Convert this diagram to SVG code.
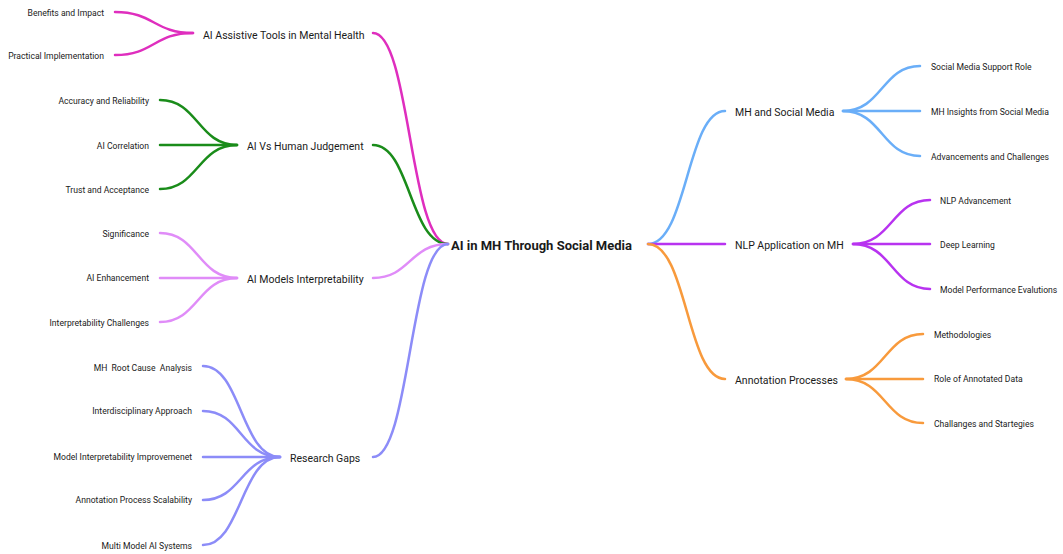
<svg xmlns="http://www.w3.org/2000/svg" width="1063" height="554" viewBox="0 0 1063 554">
<style>
text{font-family:Roboto,"Liberation Sans",sans-serif;fill:#1a1a1a;dominant-baseline:central}
.c{font-size:8.6px}
.p{font-size:10.5px}
.m{font-size:13px;font-weight:bold}
.r{text-anchor:end}
.pre{white-space:pre}
path{fill:none;stroke-width:2.5;stroke-linecap:round}
.pk{stroke:#df2ebe}.gr{stroke:#1a8c1a}.lp{stroke:#e08cf8}.bv{stroke:#8c8cf8}.lb{stroke:#6aaef8}.pu{stroke:#b833f0}.or{stroke:#f89a3c}
</style>
<rect width="1063" height="554" fill="#fff"/>
<g id="connectors">
<path class="pk" d="M373 33C410 33 410 244 448 244"/>
<path class="gr" d="M373 145C410 145 410 244 448 244"/>
<path class="lp" d="M373 278C410 278 410 244 448 244"/>
<path class="bv" d="M373 457C410 457 410 244 448 244"/>
<path class="pk" d="M193 33C154 33 154 12 115 12"/>
<path class="pk" d="M193 33C154 33 154 55 115 55"/>
<path class="gr" d="M237 145C198 145 198 100 160 100"/>
<path class="gr" d="M237 145L160 145"/>
<path class="gr" d="M237 145C198 145 198 189 160 189"/>
<path class="lp" d="M237 278C198 278 198 233 160 233"/>
<path class="lp" d="M237 278L160 278"/>
<path class="lp" d="M237 278C198 278 198 322 160 322"/>
<path class="bv" d="M280 457C241 457 241 366 203 366"/>
<path class="bv" d="M280 457C241 457 241 411 203 411"/>
<path class="bv" d="M280 457L203 457"/>
<path class="bv" d="M280 457C241 457 241 500 203 500"/>
<path class="bv" d="M280 457C241 457 241 545 203 545"/>
<path class="lb" d="M648 244C687 244 687 111 725 111"/>
<path class="pu" d="M648 244L725 244"/>
<path class="or" d="M648 244C687 244 687 379 725 379"/>
<path class="lb" d="M843 111C882 111 882 66 920 66"/>
<path class="lb" d="M843 111L920 111"/>
<path class="lb" d="M843 111C882 111 882 156 920 156"/>
<path class="pu" d="M853 244C892 244 892 200 930 200"/>
<path class="pu" d="M853 244L930 244"/>
<path class="pu" d="M853 244C892 244 892 289 930 289"/>
<path class="or" d="M846 379C885 379 885 334 923 334"/>
<path class="or" d="M846 379L923 379"/>
<path class="or" d="M846 379C885 379 885 423 923 423"/>
</g>
<g id="center"><text class="m" x="451" y="245">AI in MH Through Social Media</text></g>
<g id="n-assistive"><text class="p" x="203" y="35">AI Assistive Tools in Mental Health</text></g>
<g id="n-benefits"><text class="c r" x="104" y="13">Benefits and Impact</text></g>
<g id="n-practical"><text class="c r" x="104" y="56">Practical Implementation</text></g>
<g id="n-judgement"><text class="p" x="247" y="146">AI Vs Human Judgement</text></g>
<g id="n-accuracy"><text class="c r" x="149" y="101">Accuracy and Reliability</text></g>
<g id="n-correlation"><text class="c r" x="149" y="146">AI Correlation</text></g>
<g id="n-trust"><text class="c r" x="149" y="190">Trust and Acceptance</text></g>
<g id="n-interp"><text class="p" x="247" y="279">AI Models Interpretability</text></g>
<g id="n-significance"><text class="c r" x="149" y="234">Significance</text></g>
<g id="n-enhancement"><text class="c r" x="149" y="278">AI Enhancement</text></g>
<g id="n-interpchall"><text class="c r" x="149" y="323">Interpretability Challenges</text></g>
<g id="n-gaps"><text class="p" x="290" y="458">Research Gaps</text></g>
<g id="n-rootcause"><text class="c r pre" x="192" y="368">MH  Root Cause  Analysis</text></g>
<g id="n-interdisc"><text class="c r" x="192" y="411">Interdisciplinary Approach</text></g>
<g id="n-modelimp"><text class="c r" x="192" y="457">Model Interpretability Improvemenet</text></g>
<g id="n-annoscal"><text class="c r" x="192" y="500">Annotation Process Scalability</text></g>
<g id="n-multi"><text class="c r" x="192" y="546">Multi Model AI Systems</text></g>
<g id="n-mhsocial"><text class="p" x="735" y="112">MH and Social Media</text></g>
<g id="n-support"><text class="c" x="931" y="67">Social Media Support Role</text></g>
<g id="n-insights"><text class="c" x="931" y="112">MH Insights from Social Media</text></g>
<g id="n-advchall"><text class="c" x="931" y="157">Advancements and Challenges</text></g>
<g id="n-nlp"><text class="p" x="735" y="245">NLP Application on MH</text></g>
<g id="n-nlpadv"><text class="c" x="940" y="201">NLP Advancement</text></g>
<g id="n-deep"><text class="c" x="940" y="245">Deep Learning</text></g>
<g id="n-perf"><text class="c" x="940" y="290">Model Performance Evalutions</text></g>
<g id="n-annot"><text class="p" x="735" y="380">Annotation Processes</text></g>
<g id="n-method"><text class="c" x="934" y="335">Methodologies</text></g>
<g id="n-role"><text class="c" x="934" y="379">Role of Annotated Data</text></g>
<g id="n-challstr"><text class="c" x="934" y="424">Challanges and Startegies</text></g>
</svg>
